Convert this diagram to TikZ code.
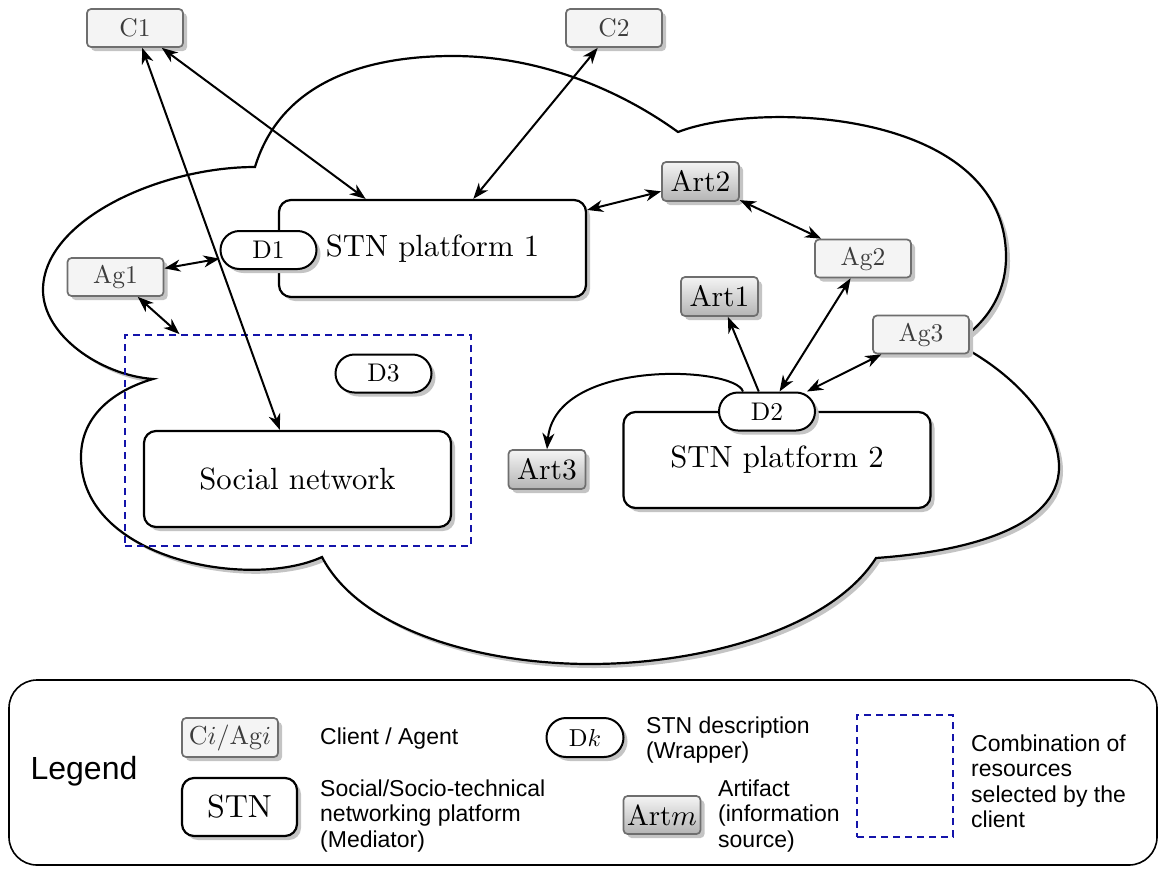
\documentclass[tikz,border=0pt]{standalone}
\usepackage{fontspec}
\usepackage{graphicx}
\usetikzlibrary{shadows,arrows.meta}
\newfontfamily\legendfont{Liberation Sans}
\definecolor{agfill}{RGB}{244,244,244}
\definecolor{agborder}{RGB}{110,110,110}
\definecolor{agtext}{RGB}{60,60,60}
\definecolor{arttop}{RGB}{244,244,244}
\definecolor{artbot}{RGB}{180,180,180}
\definecolor{shadowgray}{RGB}{196,196,196}
\definecolor{combocol}{RGB}{20,20,170}
\newcommand{\sx}[2]{\scalebox{#1}{#2}}
\tikzset{
  shad/.style={drop shadow={shadow xshift=4pt,shadow yshift=-4pt,fill=shadowgray,opacity=1}},
  agentbox/.style={draw=agborder,fill=agfill,text=agtext,line width=1.7pt,rounded corners=4pt,minimum width=96pt,minimum height=38pt,inner sep=0pt,shad},
  artbox/.style={draw=agborder,top color=arttop,bottom color=artbot,line width=1.7pt,rounded corners=4pt,minimum width=77pt,minimum height=39pt,inner sep=0pt,shad},
  wrapbox/.style={draw,fill=white,line width=2pt,rounded corners=19pt,minimum width=96pt,minimum height=38pt,inner sep=0pt,shad},
  stnbox/.style={draw,fill=white,line width=2.2pt,rounded corners=12pt,minimum width=307pt,minimum height=97pt,inner sep=0pt,shad},
  tipA/.tip={Stealth[length=16pt,width=12pt,inset=5pt]},
  arr/.style={line width=2pt,tipA-tipA},
  arrone/.style={line width=2pt,-tipA},
  combobox/.style={draw=combocol,line width=1.8pt,dash pattern=on 7pt off 5pt,inner sep=0pt},
  desc/.style={font=\legendfont\fontsize{23}{25.5}\selectfont,align=left,anchor=west,inner sep=0pt},
}
\begin{document}
\begin{tikzpicture}[x=1pt,y=-1pt]
\useasboundingbox (0,0) rectangle (1159,868);
% cloud
\path[draw,line width=2.2pt,fill=white,shad]
 (153,379) .. controls (100,375) and (43,335) .. (43,290)
 .. controls (43,220) and (160,167) .. (255,167)
 .. controls (280,85) and (360,56) .. (453,56)
 .. controls (540,56) and (620,90) .. (678,132)
 .. controls (760,100) and (1006,110) .. (1006,257)
 .. controls (1006,295) and (985,325) .. (955,343)
 .. controls (1010,370) and (1059,420) .. (1059,467)
 .. controls (1059,530) and (960,552) .. (876,558)
 .. controls (830,630) and (700,664) .. (590,664)
 .. controls (480,664) and (360,630) .. (322,557)
 .. controls (250,590) and (81,560) .. (81,457)
 .. controls (81,415) and (115,390) .. (153,379) -- cycle;
% combination box
\node[combobox,minimum width=346pt,minimum height=211pt] (combo) at (298,440.5) {};
% nodes
\node[stnbox] (STN1) at (432.5,248.5) {\sx{3.07}{STN platform 1}};
\node[stnbox,minimum height=96pt] (STN2) at (777,460) {\sx{3.07}{STN platform 2}};
\node[stnbox,minimum height=96pt] (SN) at (297.5,479) {\sx{3.07}{Social network}};
\node[wrapbox] (D1) at (268.5,250) {\sx{2.55}{D1}};
\node[wrapbox] (D2) at (767,411.5) {\sx{2.55}{D2}};
\node[wrapbox] (D3) at (383.5,373.5) {\sx{2.55}{D3}};
\node[agentbox] (C1) at (135,28) {\sx{2.55}{C1}};
\node[agentbox] (C2) at (614,28) {\sx{2.55}{C2}};
\node[agentbox] (Ag1) at (115.5,277) {\sx{2.55}{Ag1}};
\node[agentbox] (Ag2) at (863,258.5) {\sx{2.55}{Ag2}};
\node[agentbox] (Ag3) at (921,334.5) {\sx{2.55}{Ag3}};
\node[artbox] (Art2) at (700.5,181.5) {\sx{2.95}{Art2}};
\node[artbox] (Art1) at (719.5,296.5) {\sx{2.95}{Art1}};
\node[artbox] (Art3) at (547,469.5) {\sx{2.95}{Art3}};
% connectors
\draw[arr] (C1) -- (STN1);
\draw[arr] (C1) -- (SN);
\draw[arr] (C2) -- (STN1);
\draw[arr] (Art2) -- (STN1);
\draw[arr] (Art2) -- (Ag2);
\draw[arr] (Ag1) -- (D1);
\draw[arr] (Ag1) -- (combo);
\draw[arrone] (D2) -- (Art1);
\draw[arr] (D2) -- (Ag2);
\draw[arr] (D2) -- (Ag3);
\draw[arrone] ([xshift=-24pt]D2.north) .. controls (735,366) and (555,358) .. (Art3.north);
% legend
\node[draw,line width=1.6pt,rounded corners=28pt,minimum width=1148pt,minimum height=185pt,inner sep=0pt] (legendbox) at (583,772.5) {};
\node[font=\legendfont\fontsize{32}{36}\selectfont,inner sep=0pt] (legendtitle) at (84,771) {Legend};
\node[agentbox,minimum width=96pt,minimum height=39pt] (lagent) at (230,737.5) {\sx{2.6}{C$i$/Ag$i$}};
\node[desc] (lagenttxt) at (320,739) {Client / Agent};
\node[stnbox,minimum width=115pt,minimum height=58pt] (lstn) at (239.5,807) {\sx{3.2}{STN}};
\node[desc] (lstntxt) at (320,816) {Social/Socio-technical\\networking platform\\(Mediator)};
\node[wrapbox,minimum width=77pt,minimum height=39pt,rounded corners=19.5pt] (ld) at (585,737.5) {\sx{2.45}{D$k$}};
\node[desc] (ldtxt) at (646,740) {STN description\\(Wrapper)};
\node[artbox,minimum width=77pt,minimum height=38pt] (lart) at (662,815) {\sx{2.9}{Art$m$}};
\node[desc] (larttxt) at (718,816) {Artifact\\(information\\source)};
\node[combobox,minimum width=96pt,minimum height=122pt] (lcombo) at (905,776) {};
\node[desc] (lcombotxt) at (971,781.5) {Combination of\\resources\\selected by the\\client};
\end{tikzpicture}
\end{document}
